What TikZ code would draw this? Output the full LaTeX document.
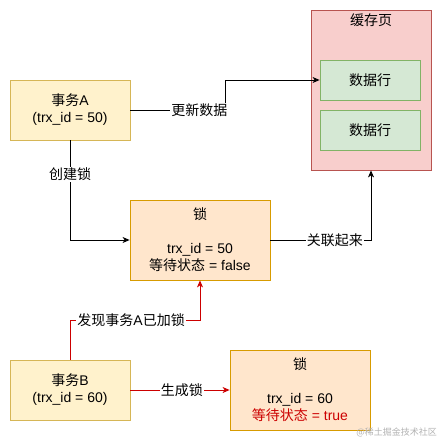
\documentclass[tikz,border=0pt]{standalone}
\usepackage{fontspec}
\setmainfont{Liberation Sans}
\newfontfamily\cjk{Noto Sans CJK SC}
\usetikzlibrary{arrows.meta,calc}
\definecolor{ayfill}{HTML}{FFF2CC}
\definecolor{aystroke}{HTML}{D6B656}
\definecolor{lkfill}{HTML}{FFE6CC}
\definecolor{lkstroke}{HTML}{D79B00}
\definecolor{cpfill}{HTML}{F8CECC}
\definecolor{cpstroke}{HTML}{B85450}
\definecolor{rwfill}{HTML}{D5E8D4}
\definecolor{rwstroke}{HTML}{82B366}
\definecolor{redline}{HTML}{CC0000}
\begin{document}
\begin{tikzpicture}[x=1pt,y=-1pt,
  every node/.style={font=\fontsize{14}{17}\selectfont, inner sep=0pt},
  txbox/.style={draw=aystroke, fill=ayfill, line width=0.8pt, minimum width=120pt, minimum height=60pt, align=center},
  lockbox/.style={draw=lkstroke, fill=lkfill, line width=0.8pt, minimum width=140pt, minimum height=80pt, align=center},
  rowbox/.style={draw=rwstroke, fill=rwfill, line width=0.8pt, minimum width=100pt, minimum height=40pt},
  arr/.style={draw=black, line width=0.9pt, -{Stealth[length=7pt,width=6pt,inset=2pt]}},
  redarr/.style={arr, draw=redline, -{Stealth[length=7pt,width=6pt,inset=2pt,fill=redline]}},
  lbl/.style={fill=white, inner sep=1pt}
]
\useasboundingbox (0,0) rectangle (441,441);

\node[draw=cpstroke, fill=cpfill, line width=0.8pt, minimum width=120pt, minimum height=160pt] (cache) at (371,90) {};
\node (cachetitle) at (371,20) {\cjk 缓存页};
\node[rowbox] (row1) at (370,80) {\cjk 数据行};
\node[rowbox] (row2) at (370,130) {\cjk 数据行};

\node[txbox] (A) at (70,110) {{\cjk 事务}A\\(trx\_id = 50)};
\node[lockbox] (lock1) at (200,240) {{\cjk 锁}\\[17pt]trx\_id = 50\\{\cjk 等待状态} = false};
\node[txbox] (B) at (70,390) {{\cjk 事务}B\\(trx\_id = 60)};
\node[lockbox] (lock2) at (300,390) {{\cjk 锁}\\[17pt]trx\_id = 60\\\textcolor{redline}{{\cjk 等待状态} = true}};

\coordinate (k1) at (225,110);
\draw[arr] (A.east) -- node[lbl, pos=0.73] {\cjk 更新数据} (k1) |- (row1.west);
\draw[arr] (A.south) |- node[lbl, pos=0.17] {\cjk 创建锁} (lock1.west);
\draw[arr] (lock1.east) -| node[lbl, pos=0.32] {\cjk 关联起来} (cache.south);

\coordinate (k2) at (200,320);
\draw[redarr] (B.north) |- node[lbl, pos=0.735] {{\cjk 发现事务}A{\cjk 已加锁}} (k2) -- (lock1.south);
\draw[redarr] (B.east) -- node[lbl, pos=0.52] {\cjk 生成锁} (lock2.west);

\node[anchor=east, font=\cjk\fontsize{9}{10}\selectfont, text=black!30] (wm) at (437,432) {@{\cjk 稀土掘金技术社区}};
\end{tikzpicture}
\end{document}
